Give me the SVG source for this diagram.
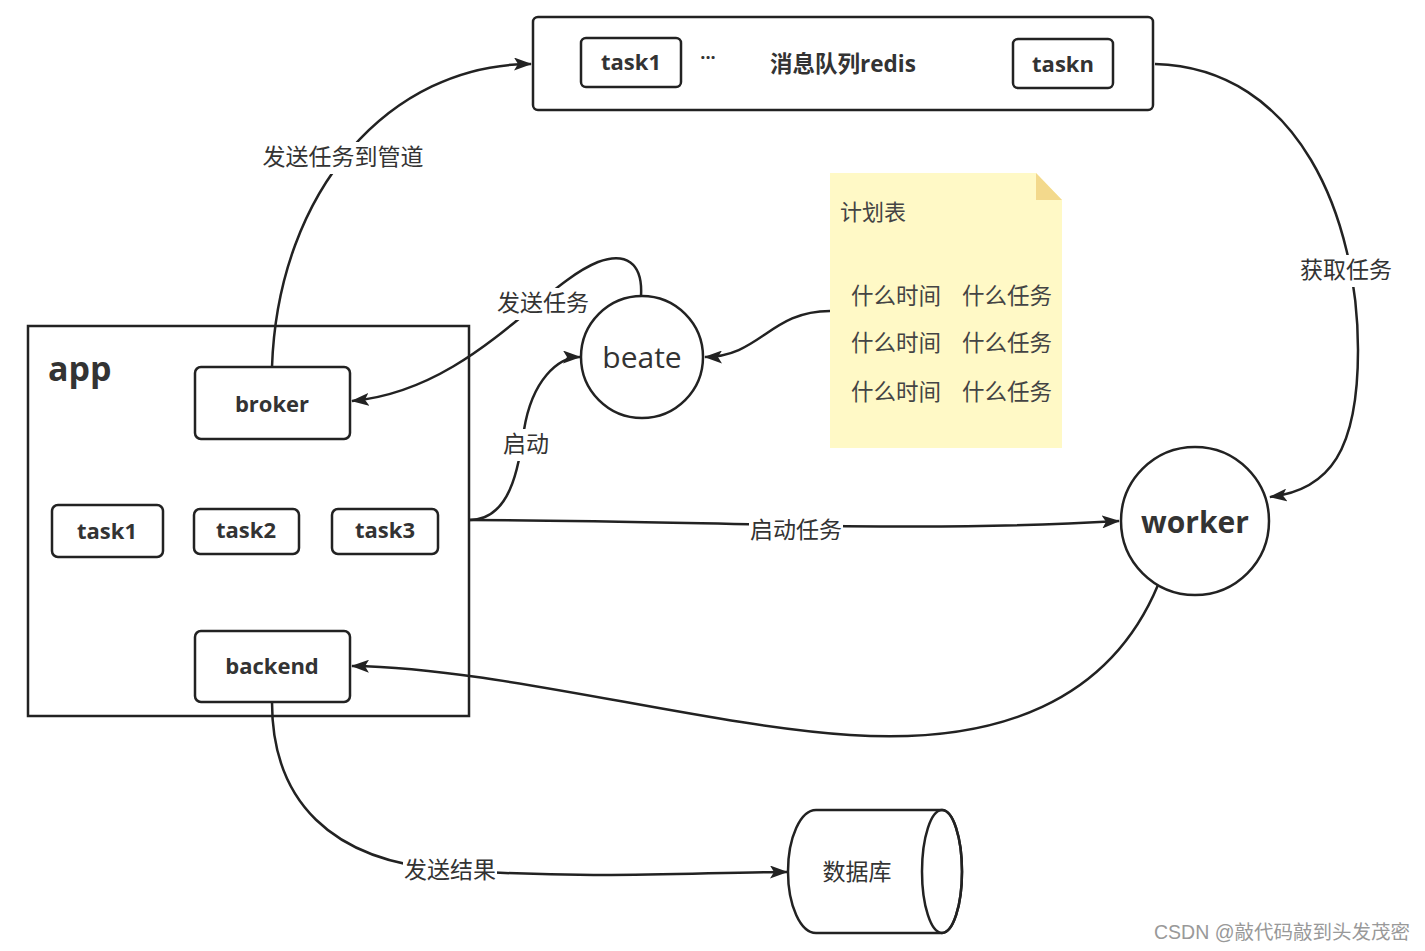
<svg xmlns="http://www.w3.org/2000/svg" width="1425" height="951" viewBox="0 0 1425 951">
<defs>
<marker id="arr" viewBox="0 0 18 13" refX="17" refY="6.5" markerWidth="18" markerHeight="13" markerUnits="userSpaceOnUse" orient="auto">
<path d="M0,0 L18,6.5 L0,13 L4,6.5 Z" fill="#222"/>
</marker>
<style>
.box{fill:#fff;stroke:#222;stroke-width:2.5}
.in{fill:#fff;stroke:#222;stroke-width:2.5}
.b{font-family:"Open Sans","Noto Sans CJK SC",sans-serif;font-weight:bold;fill:#333;text-anchor:middle}
.lbl{font-family:"Noto Sans CJK SC","Noto Sans",sans-serif;font-size:23px;fill:#333;text-anchor:middle}
.edge{fill:none;stroke:#222;stroke-width:2.5}
.bg{fill:#fff}
</style>
</defs>
<rect width="1425" height="951" fill="#fff"/>

<g id="queue">
<rect class="box" x="533" y="17" width="620" height="93" rx="5"/>
<rect class="in" x="581" y="38" width="100" height="49" rx="5"/>
<text class="b" x="631" y="70" font-size="22">task1</text>
<text class="b" x="708" y="64" font-size="18">···</text>
<text class="b" x="843" y="72" font-size="22.5">消息队列redis</text>
<rect class="in" x="1013" y="39" width="100" height="49" rx="5"/>
<text class="b" x="1063" y="72" font-size="22">taskn</text>
</g>

<g id="note">
<path d="M830,173 L1036,173 L1062,200 L1062,448 L830,448 Z" fill="#fff9c6"/>
<path d="M1036,173 L1062,200 L1036,200 Z" fill="#f3d98c"/>
<text x="840" y="220" font-family="Noto Sans CJK SC,sans-serif" font-size="22" fill="#444">计划表</text>
<g font-family="Noto Sans CJK SC,sans-serif" font-size="22.5" fill="#444">
<text x="851" y="304">什么时间</text><text x="962" y="304">什么任务</text>
<text x="851" y="351">什么时间</text><text x="962" y="351">什么任务</text>
<text x="851" y="400">什么时间</text><text x="962" y="400">什么任务</text>
</g>
</g>

<g id="beate">
<circle cx="642" cy="357" r="61" class="box"/>
<text x="642" y="368" font-family="Open Sans,sans-serif" font-size="30" fill="#333" text-anchor="middle">beate</text>
</g>

<g id="app">
<rect x="28" y="326" width="441" height="390" fill="#fff" stroke="#222" stroke-width="2.5"/>
<text x="48" y="381" font-family="Open Sans,sans-serif" font-weight="bold" font-size="34" fill="#333">app</text>
</g>
<g id="broker">
<rect class="in" x="195" y="367" width="155" height="72" rx="6"/>
<text class="b" x="272" y="412" font-size="22">broker</text>
</g>
<g id="task1">
<rect class="in" x="52" y="505" width="111" height="52" rx="6"/>
<text class="b" x="107" y="539" font-size="22">task1</text>
</g>
<g id="task2">
<rect class="in" x="194" y="509" width="105" height="45" rx="6"/>
<text class="b" x="246" y="538" font-size="22">task2</text>
</g>
<g id="task3">
<rect class="in" x="332" y="509" width="106" height="45" rx="6"/>
<text class="b" x="385" y="538" font-size="22">task3</text>
</g>
<g id="backend">
<rect class="in" x="195" y="631" width="155" height="71" rx="6"/>
<text class="b" x="272" y="674" font-size="22">backend</text>
</g>

<g id="worker">
<circle cx="1195" cy="521" r="74" class="box"/>
<text class="b" x="1195" y="533" font-size="30">worker</text>
</g>

<g id="database">
<path d="M816,810 L942,810 A20,61.5 0 0 1 942,933 L816,933 A28,61.5 0 0 1 816,810 Z" fill="#fff" stroke="#222" stroke-width="2.5"/>
<ellipse cx="942" cy="871.5" rx="20" ry="61.5" fill="none" stroke="#222" stroke-width="2.5"/>
<text x="857" y="880" font-family="Noto Sans CJK SC,sans-serif" font-size="23" fill="#333" text-anchor="middle">数据库</text>
</g>

<g id="connectors">
<path class="edge" marker-end="url(#arr)" d="M272,367 C278,190 390,64 531,64"/>
<path class="edge" marker-end="url(#arr)" d="M1155,64 C1300,68 1358,220 1358,350 C1358,450 1330,490 1270,497"/>
<path class="edge" marker-end="url(#arr)" d="M830,311 C770,311 760,357 705,357"/>
<path class="edge" marker-end="url(#arr)" d="M641,296 C643,262 625,252 598,262 C540,285 470,390 352,401"/>
<path class="edge" marker-end="url(#arr)" d="M469,520 C510,520 518,470 524,430 C532,380 558,357 580,357"/>
<path class="edge" marker-end="url(#arr)" d="M469,520 C700,520 900,534 1119,521"/>
<path class="edge" marker-end="url(#arr)" d="M1158,585 C1110,700 1000,745 850,735 C700,725 500,668 352,666"/>
<path class="edge" marker-end="url(#arr)" d="M272,702 C272,800 330,862 450,870 C600,880 700,872 787,872"/>

<rect class="bg" x="261" y="142" width="164" height="32"/>
<text class="lbl" x="343" y="165">发送任务到管道</text>
<rect class="bg" x="1299" y="255" width="94" height="32"/>
<text class="lbl" x="1346" y="278">获取任务</text>
<rect class="bg" x="496" y="288" width="94" height="32"/>
<text class="lbl" x="543" y="311">发送任务</text>
<rect class="bg" x="501" y="429" width="50" height="32"/>
<text class="lbl" x="526" y="452">启动</text>
<rect class="bg" x="749" y="515" width="94" height="32"/>
<text class="lbl" x="796" y="538">启动任务</text>
<rect class="bg" x="403" y="855" width="94" height="32"/>
<text class="lbl" x="450" y="878">发送结果</text>
</g>

<text x="1410" y="939" font-family="Liberation Sans,Noto Sans CJK SC,sans-serif" font-size="19.5" fill="#999" text-anchor="end">CSDN @敲代码敲到头发茂密</text>
</svg>
